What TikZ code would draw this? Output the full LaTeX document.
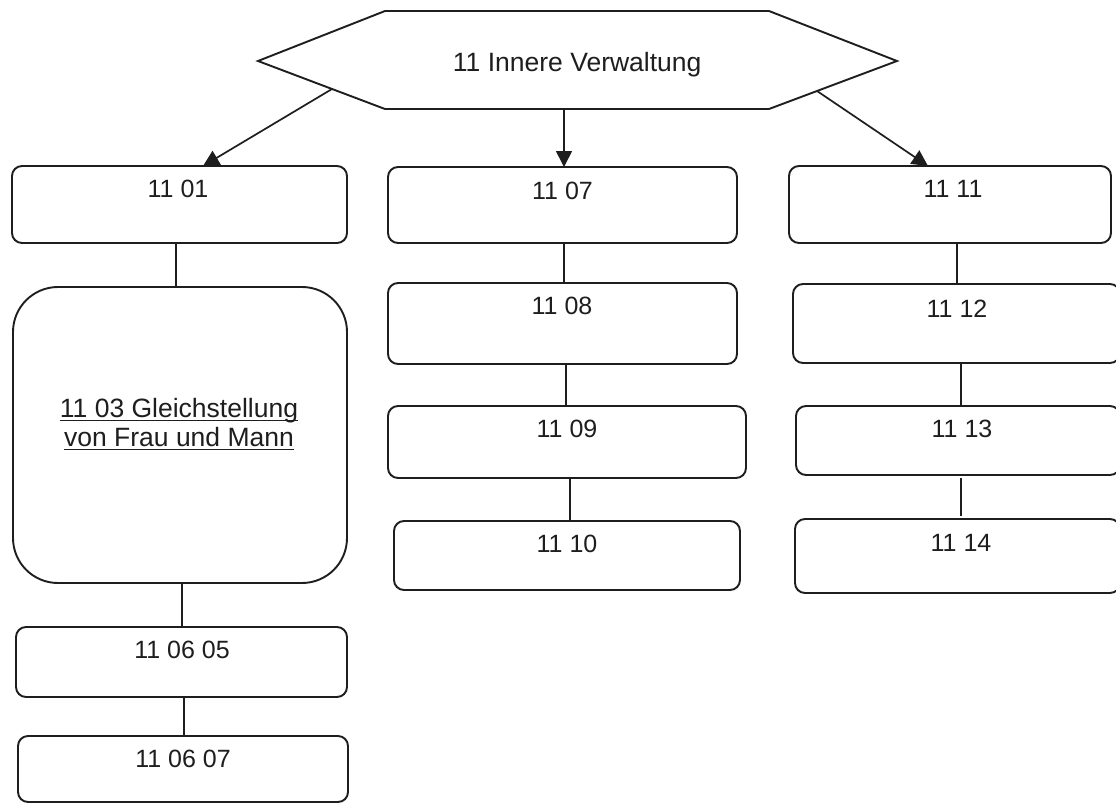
\documentclass[tikz,border=0pt]{standalone}
\usepackage{fontspec}
\setmainfont{Liberation Sans}
\usetikzlibrary{arrows.meta,calc}
\definecolor{ink}{HTML}{1E1E1E}
\tikzset{
  box/.style={draw=ink, line width=1.9pt, rounded corners=10pt, inner sep=0pt, outer sep=0pt},
  lbl/.style={inner sep=0pt, anchor=base, text=ink, font=\fontsize{25}{30}\selectfont},
  big/.style={inner sep=0pt, anchor=base, text=ink, font=\fontsize{26.5}{31}\selectfont},
  conn/.style={draw=ink, line width=1.7pt},
  arr/.style={draw=ink, line width=1.7pt, -{Triangle[length=16pt,width=16pt]}},
}
\begin{document}
\begin{tikzpicture}[x=1pt,y=-1pt]
\useasboundingbox (0,0) rectangle (1116,804);
\clip (0,0) rectangle (1116,804);
\fill[white] (0,0) rectangle (1116,804);
% hexagon
\coordinate (hW) at (258,61);
\coordinate (hNW) at (385,11);
\coordinate (hNE) at (769,11);
\coordinate (hE) at (897,61);
\coordinate (hSE) at (769,109);
\coordinate (hSW) at (385,109);
\draw[draw=ink, line width=1.9pt, line join=miter] (hW) -- (hNW) -- (hNE) -- (hE) -- (hSE) -- (hSW) -- cycle;
\node[big] (title) at (577.2,71.7) {11 Innere Verwaltung};
% left column
\node[box, minimum width=335pt, minimum height=77pt] (b1101) at (179.5,204.5) {};
\node[lbl] (t1101) at (178,197) {11 01};
\node[box, rounded corners=45pt, minimum width=334pt, minimum height=296pt] (b1103) at (180,435) {};
\node[big] (t1103a) at (179,417) {11 03 Gleichstellung};
\node[big] (t1103b) at (179,446) {von Frau und Mann};
\draw[ink, line width=1.7pt] ([yshift=-3.5pt]t1103a.base west) -- ([yshift=-3.5pt]t1103a.base east);
\draw[ink, line width=1.7pt] ([yshift=-3.5pt]t1103b.base west) -- ([yshift=-3.5pt]t1103b.base east);
\node[box, minimum width=331pt, minimum height=70pt] (b110605) at (181.5,662) {};
\node[lbl] (t110605) at (182,658) {11 06 05};
\node[box, minimum width=330pt, minimum height=66pt] (b110607) at (183,769) {};
\node[lbl] (t110607) at (183,767) {11 06 07};
% middle column
\node[box, minimum width=349pt, minimum height=76pt] (b1107) at (562.5,205) {};
\node[lbl] (t1107) at (562.5,199) {11 07};
\node[box, minimum width=349pt, minimum height=81pt] (b1108) at (562.5,323.5) {};
\node[lbl] (t1108) at (562,314) {11 08};
\node[box, minimum width=358pt, minimum height=72pt] (b1109) at (567,442) {};
\node[lbl] (t1109) at (567,437) {11 09};
\node[box, minimum width=346pt, minimum height=69pt] (b1110) at (567,555.5) {};
\node[lbl] (t1110) at (567,552) {11 10};
% right column
\node[box, minimum width=322pt, minimum height=77pt] (b1111) at (950,204.5) {};
\node[lbl] (t1111) at (953,197) {11 11};
\node[box, minimum width=327pt, minimum height=79pt] (b1112) at (956.5,323.5) {};
\node[lbl] (t1112) at (957,317) {11 12};
\node[box, minimum width=324pt, minimum height=69pt] (b1113) at (958,440.5) {};
\node[lbl] (t1113) at (962,437) {11 13};
\node[box, minimum width=325pt, minimum height=74pt] (b1114) at (957.5,556) {};
\node[lbl] (t1114) at (961,551) {11 14};
% arrows from hexagon
\coordinate (sL) at ($(hW)!0.583!(hSW)$);
\coordinate (sR) at ($(hE)!0.625!(hSE)$);
\draw[arr] (sL) -- (b1101.north -| 203,0);
\draw[arr] (hSW -| 564,0) -- (b1107.north -| 564,0);
\draw[arr] (sR) -- (b1111.north -| 928,0);
% vertical connectors
\draw[conn] (b1101.south -| 176,0) -- (b1103.north -| 176,0);
\draw[conn] (b1103.south -| 182,0) -- (b110605.north -| 182,0);
\draw[conn] (b110605.south -| 184,0) -- (b110607.north -| 184,0);
\draw[conn] (b1107.south -| 564,0) -- (b1108.north -| 564,0);
\draw[conn] (b1108.south -| 566,0) -- (b1109.north -| 566,0);
\draw[conn] (b1109.south -| 570,0) -- (b1110.north -| 570,0);
\draw[conn] (b1111.south -| 957,0) -- (b1112.north -| 957,0);
\draw[conn] (b1112.south -| 961,0) -- (b1113.north -| 961,0);
\draw[conn, shorten <=3pt, shorten >=3pt] (b1113.south -| 961,0) -- (b1114.north -| 961,0);
\end{tikzpicture}
\end{document}
